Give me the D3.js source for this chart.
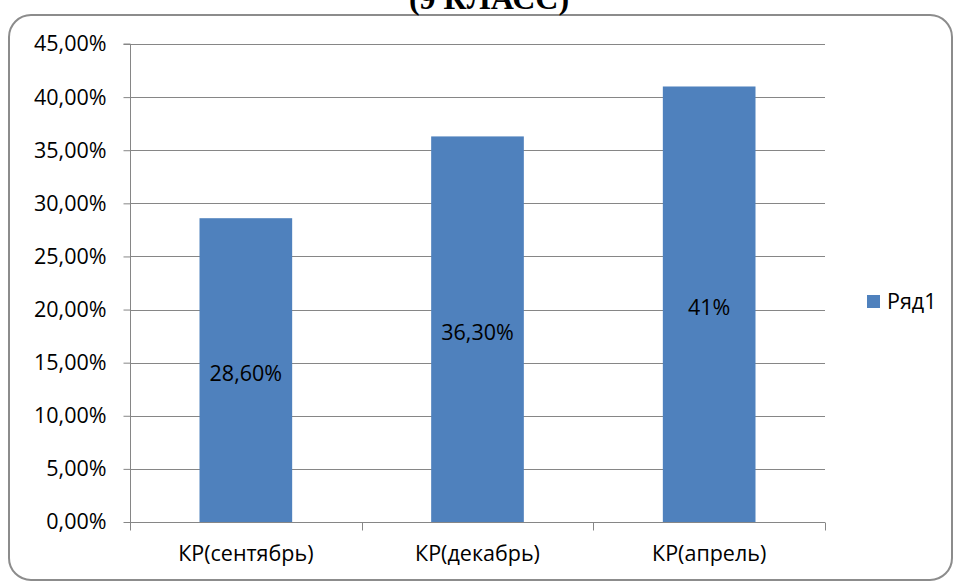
<!DOCTYPE html>
<html><head><meta charset="utf-8">
<script src="https://cdn.jsdelivr.net/npm/d3@7"></script>
<style>body{margin:0;background:#fff}svg{display:block}</style>
</head><body>
<svg id="c" width="957" height="583"></svg>
<script>
const categories = ["КР(сентябрь)", "КР(декабрь)", "КР(апрель)"];
const values = [28.6, 36.3, 41];
const valueLabels = ["28,60%", "36,30%", "41%"];
const yTicks = [0, 5, 10, 15, 20, 25, 30, 35, 40, 45];
const seriesName = "Ряд1";
const title = "(9 КЛАСС)";

const svg = d3.select("#c");
const font = "'Open Sans', sans-serif";
const fs = 21.5;
const gray = "#868686";
const barColor = "#4F81BD";

svg.append("rect").attr("x", 9).attr("y", 15).attr("width", 943).attr("height", 565)
  .attr("rx", 22).attr("fill", "#fff").attr("stroke", "#8c8c8c").attr("stroke-width", 2);

svg.append("text").attr("x", 489).attr("y", 9).attr("text-anchor", "middle")
  .attr("font-family", "'Liberation Serif', serif").attr("font-weight", "bold").attr("font-size", 32)
  .text(title);

const x0 = 130, x1 = 825, y0 = 522, y1 = 44;
const x = d3.scaleBand().domain(categories).range([x0, x1]);
const y = d3.scaleLinear().domain([0, 45]).range([y0, y1]);

// gridlines
svg.append("g").selectAll("line").data(yTicks.filter(d => d > 0)).join("line")
  .attr("x1", x0).attr("x2", x1).attr("y1", d => Math.round(y(d)) + 0.5).attr("y2", d => Math.round(y(d)) + 0.5)
  .attr("stroke", gray).attr("stroke-width", 1);

// bars
const bw = x.bandwidth() * 0.4;
svg.append("g").selectAll("rect").data(values).join("rect")
  .attr("x", (d, i) => x(categories[i]) + x.bandwidth() / 2 - bw / 2)
  .attr("width", bw)
  .attr("y", d => y(d)).attr("height", d => y0 - y(d))
  .attr("fill", barColor);

// value labels
svg.append("g").selectAll("text").data(values).join("text")
  .attr("x", (d, i) => x(categories[i]) + x.bandwidth() / 2)
  .attr("y", d => (y(d) + y0) / 2 + 3)
  .attr("dy", "0.36em")
  .attr("text-anchor", "middle").attr("font-family", font).attr("font-size", fs).attr("fill", "#000")
  .text((d, i) => valueLabels[i]);

// y axis
const yAxis = d3.axisLeft(y).tickValues(yTicks).tickSize(7).tickPadding(17)
  .tickFormat(d => d3.format(".2f")(d).replace(".", ",") + "%");
const gy = svg.append("g").attr("transform", `translate(${x0 + 0.5},0)`).call(yAxis);
gy.select(".domain").attr("stroke", gray).attr("d", `M-7,${y1}H0V${y0}`);
gy.selectAll(".tick line").attr("stroke", gray);
gy.selectAll(".tick text").attr("font-family", font).attr("font-size", fs).attr("fill", "#000");

// x axis
const gx = svg.append("g").attr("transform", `translate(0,${y0 + 0.5})`);
gx.append("line").attr("x1", x0).attr("x2", x1).attr("stroke", gray);
const edges = categories.map(c => x(c)).concat([x1]);
gx.selectAll(".tk").data(edges).join("line").attr("class", "tk")
  .attr("x1", d => Math.round(d) + 0.5).attr("x2", d => Math.round(d) + 0.5).attr("y1", 0).attr("y2", 8).attr("stroke", gray);
gx.selectAll("text").data(categories).join("text")
  .attr("x", d => x(d) + x.bandwidth() / 2).attr("y", 38)
  .attr("text-anchor", "middle").attr("font-family", font).attr("font-size", fs).attr("fill", "#000")
  .text(d => d);

// legend
svg.append("rect").attr("x", 867).attr("y", 295).attr("width", 13).attr("height", 13).attr("fill", barColor);
svg.append("text").attr("x", 887).attr("y", 309).attr("font-family", font).attr("font-size", fs).attr("fill", "#000").text(seriesName);
</script>
</body></html>
